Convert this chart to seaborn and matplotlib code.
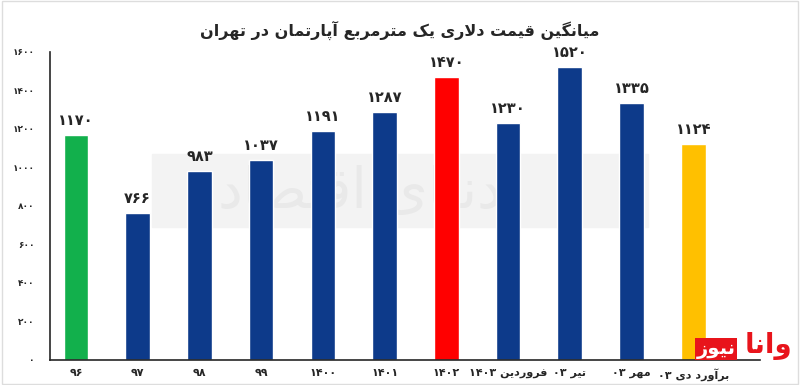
import re
import unicodedata
import matplotlib
matplotlib.use("Agg")
import matplotlib.pyplot as plt
import seaborn as sns

# data
labels = ['۹۶', '۹۷', '۹۸', '۹۹', '۱۴۰۰', '۱۴۰۱', '۱۴۰۲',
          'فروردین ۱۴۰۳', 'تیر ۰۳', 'مهر ۰۳', 'برآورد دی ۰۳']
prices = [1170, 766, 983, 1037, 1191, 1287, 1470, 1230, 1520, 1335, 1124]
bar_colors = ['#12b04c', '#0d3a8a', '#0d3a8a', '#0d3a8a', '#0d3a8a', '#0d3a8a',
              '#ff0000', '#0d3a8a', '#0d3a8a', '#0d3a8a', '#ffc000']
y_ticks = [0, 200, 400, 600, 800, 1000, 1200, 1400, 1600]
title = 'میانگین قیمت دلاری یک مترمربع آپارتمان در تهران'

# matplotlib does no arabic shaping, so pick the presentation forms by hand
FORMS = {}
for cp in range(0xFB50, 0xFEFF):
    d = unicodedata.decomposition(chr(cp))
    if d.startswith('<'):
        tag, *codes = d.split()
        if tag in ('<isolated>', '<final>', '<initial>', '<medial>'):
            key = ''.join(chr(int(c, 16)) for c in codes)
            FORMS.setdefault(key, {}).setdefault(tag[1:-1], chr(cp))


def fa(text):
    text = unicodedata.normalize('NFC', str(text))
    text = text.translate(str.maketrans('0123456789', '۰۱۲۳۴۵۶۷۸۹'))
    chars = []
    i = 0
    while i < len(text):
        if text[i] == 'ل' and text[i:i + 2] in FORMS:
            chars.append(text[i:i + 2])
            i += 2
        else:
            chars.append(text[i])
            i += 1
    out = []
    for i, c in enumerate(chars):
        f = FORMS.get(c)
        if not f:
            out.append(c)
            continue
        prev = chars[i - 1] if i > 0 else None
        nxt = chars[i + 1] if i + 1 < len(chars) else None
        jp = prev is not None and 'initial' in FORMS.get(prev, {})
        jn = 'initial' in f and nxt is not None and 'final' in FORMS.get(nxt, {})
        if jp and jn:
            form = 'medial'
        elif jp:
            form = 'final'
        elif jn:
            form = 'initial'
        else:
            form = 'isolated'
        out.append(f.get(form, f.get('isolated', c)))
    vis = ''.join(out)[::-1]
    # numbers stay left to right inside the rtl line
    return re.sub('[۰-۹]+', lambda m: m.group()[::-1], vis)


sns.set_style('white')
plt.rcParams['font.family'] = ['DejaVu Sans']

fig = plt.figure(figsize=(8, 3.85), dpi=100)
ax = fig.add_axes([0.0625, 0.065, 0.8875, 0.8])
ax.set_zorder(2)
ax.set_facecolor('none')

# faint watermark band behind the bars
fig.patches.append(plt.Rectangle((0.19, 0.41), 0.62, 0.19, transform=fig.transFigure,
                                 color='#f3f3f3', zorder=-2))
fig.text(0.45, 0.5, fa('دنیای اقتصاد'), fontsize=40, color='#e9e9e9',
         ha='center', va='center', zorder=-1)

x_names = [fa(l) for l in labels]
sns.barplot(x=x_names, y=prices, hue=x_names, palette=bar_colors, legend=False,
            width=0.4, saturation=1, ax=ax)

for cont, v in zip(ax.containers, prices):
    ax.bar_label(cont, labels=[fa(v)], padding=5, fontsize=10.5, fontweight='bold')

ax.set_xlim(-0.42, 11.08)
ax.set_ylim(0, 1600)
ax.set_yticks(y_ticks)
ax.set_yticklabels([fa(t) for t in y_ticks], fontsize=6.5, fontweight='bold')
ax.tick_params(axis='x', labelsize=8, length=0, pad=6)
ax.tick_params(axis='y', length=0, pad=11)
for lab in ax.get_xticklabels():
    lab.set_fontweight('bold')

sns.despine(ax=ax)
ax.spines['left'].set_linewidth(1.2)
ax.spines['bottom'].set_linewidth(1.2)

fig.text(0.5, 0.92, fa(title), ha='center', va='center', fontsize=11.5, fontweight='bold')

# site logo in the corner
fig.text(0.96, 0.1, fa('وانا'), ha='center', va='center', fontsize=20,
         fontweight='bold', color='#e8141b', zorder=3)
fig.text(0.895, 0.093, fa('نیوز'), ha='center', va='center', fontsize=14,
         fontweight='bold', color='white', zorder=3,
         bbox=dict(facecolor='#e8141b', edgecolor='none', pad=1))

fig.patches.append(plt.Rectangle((0.002, 0.003), 0.996, 0.994, transform=fig.transFigure,
                                 fill=False, edgecolor='#dddddd', linewidth=1))

fig.savefig('out.png', dpi=100)
